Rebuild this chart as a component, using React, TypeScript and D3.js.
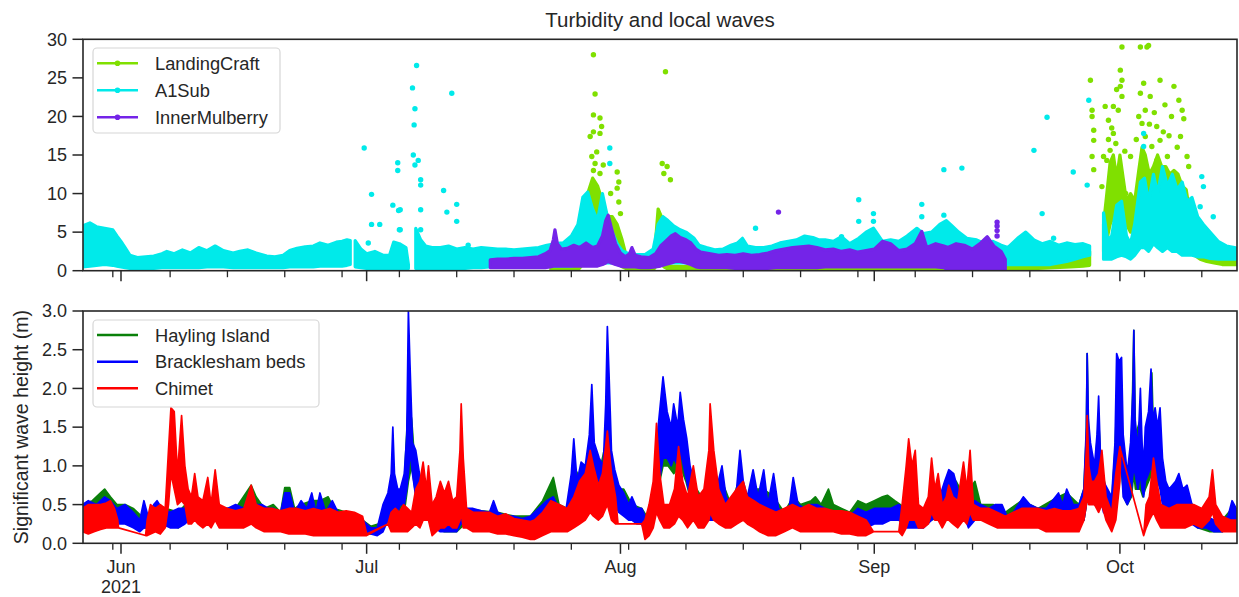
import React from "react";
import * as d3 from "d3";

// Time is stored as days since 2021-06-01 00:00 UTC.
const T0 = Date.UTC(2021, 5, 1);
const DAY = 864e5;
const toDate = (t: number) => new Date(T0 + t * DAY);

type Band = [number, number, number][]; // [day, low, high] envelope of a dense record
type Pts = [number, number][]; // [day, value] isolated samples

// ---------- Turbidity (top panel) ----------
const seriesTop = ["LandingCraft", "A1Sub", "InnerMulberry"];
const colorsTop = ["#80e000", "#00eaea", "#7424e8"];

const landingCraftBands: Band[] = [
  [
    [52.5, 0.1, 0.5], [55.5, 0.1, 0.6], [56.0, 0.3, 3.0], [56.5, 1.0, 8.0], [57.0, 2.0, 10.0],
    [57.6, 3.0, 12.0], [58.2, 3.0, 11.0], [58.8, 2.5, 9.0], [59.4, 2.0, 7.0], [60.0, 2.0, 7.0],
    [60.6, 1.5, 6.0], [61.2, 0.5, 4.0], [61.8, 0.2, 1.5], [62.5, 0.1, 0.4], [65.0, 0.1, 0.5],
    [65.3, 0.5, 4.0], [65.6, 1.0, 8.0], [66.0, 1.0, 7.0], [66.3, 0.5, 3.0], [66.8, 0.2, 0.6],
    [70, 0.1, 0.5], [80, 0.1, 0.5], [90, 0.1, 0.5], [100, 0.05, 0.4], [108, 0.1, 0.5],
    [110, 0.2, 0.8], [112, 0.3, 1.0], [114, 0.4, 1.5], [116, 0.5, 2.0], [117.5, 0.6, 2.5], [118.3, 0.7, 2.5],
  ],
  [
    [120.0, 2.5, 6.0], [120.4, 4.0, 10.0], [120.8, 6.0, 14.0], [121.2, 7.0, 15.0], [121.6, 7.0, 12.0],
    [122.0, 8.0, 15.0], [122.4, 8.0, 12.0], [122.8, 6.0, 9.0], [123.3, 5.0, 10.0], [123.8, 6.0, 9.0],
    [124.3, 9.0, 13.0], [124.7, 11.0, 16.0], [125.1, 10.0, 15.0], [125.6, 9.0, 12.5], [126.1, 10.0, 13.5],
    [126.6, 11.0, 15.0], [127.1, 11.0, 13.5], [127.6, 10.0, 13.5], [128.1, 10.0, 12.5], [128.6, 9.0, 13.0],
    [129.1, 9.0, 12.5], [129.6, 7.0, 11.0], [130.1, 5.0, 10.5], [130.6, 3.0, 7.0], [131.1, 2.0, 5.0],
    [131.8, 1.5, 4.2], [132.6, 1.2, 3.0], [133.5, 1.0, 2.4], [134.5, 0.8, 2.0], [135.5, 0.8, 1.8], [136.3, 0.8, 1.6],
  ],
];

const landingCraftDots: Pts = [
  [57.7, 28.0], [57.9, 22.9], [57.7, 20.2], [58.5, 19.8], [58.7, 18.7], [57.7, 18.0], [58.5, 17.8],
  [57.3, 17.4], [58.1, 15.4], [57.5, 14.8], [57.9, 13.9], [58.9, 13.7], [57.7, 13.0], [58.5, 12.6],
  [60.6, 12.8], [60.8, 11.5], [60.6, 10.7], [59.8, 10.0], [60.8, 8.9], [61.0, 7.4],
  [66.5, 25.8], [66.1, 13.9], [66.7, 13.5], [67.1, 11.8], [66.3, 12.6],
  [118.4, 24.7], [118.6, 20.8], [118.6, 20.0], [118.8, 18.2], [118.8, 16.9], [118.6, 14.8], [118.8, 13.1],
  [120.2, 21.3], [121.2, 21.3], [120.6, 19.5], [121.2, 17.8], [120.8, 15.6], [120.4, 14.3], [121.2, 13.5],
  [121.0, 9.6], [122.05, 26.0], [122.25, 24.7], [122.05, 23.9], [122.25, 22.6], [121.8, 20.8], [122.25, 29.0],
  [122.7, 10.0], [123.3, 14.8], [124.5, 29.0], [125.3, 29.0], [125.5, 29.2], [124.5, 23.0], [124.9, 24.3],
  [125.7, 22.6], [125.1, 20.8], [124.7, 19.1], [125.1, 17.4], [125.9, 16.1], [126.5, 18.7], [126.9, 24.7],
  [126.9, 16.9], [127.8, 14.8], [128.6, 23.9], [129.2, 22.1], [129.6, 20.8], [129.8, 19.7], [129.4, 17.4],
  [130.2, 14.8], [130.4, 13.5], [126.5, 14.3], [126.7, 12.6], [120.0, 14.8], [119.8, 10.9],
  [120.6, 17.0], [121.0, 18.5], [121.5, 16.5], [122.6, 15.5], [124.0, 17.0], [124.3, 20.0], [125.6, 19.0],
  [126.2, 20.5], [127.3, 18.0], [128.0, 17.5], [128.3, 20.0], [129.0, 16.0], [127.5, 21.5], [121.6, 23.5],
];

const a1subBands: Band[] = [
  [
    [-4.7, 0.5, 5.8], [-3.8, 0.6, 6.2], [-3.0, 0.7, 5.7], [-2.0, 0.8, 5.5], [-1.0, 0.7, 5.3], [-0.5, 0.6, 4.5],
    [0.0, 0.5, 3.8], [0.5, 0.4, 3.0], [1.1, 0.3, 2.0], [2, 0.3, 1.7], [3, 0.3, 1.8], [4, 0.3, 1.9],
    [5, 0.4, 2.2], [5.6, 0.4, 2.5], [6.5, 0.4, 2.2], [7.5, 0.4, 2.7], [8.5, 0.4, 2.3], [9.5, 0.4, 3.0],
    [10.5, 0.5, 2.6], [11.5, 0.5, 3.2], [12.5, 0.5, 2.6], [13.7, 0.4, 2.3], [14.5, 0.4, 2.5], [15.5, 0.4, 2.7],
    [16.5, 0.4, 2.3], [17.8, 0.4, 1.9], [18.8, 0.4, 1.8], [19.8, 0.4, 2.0], [20.6, 0.5, 2.6], [21.5, 0.5, 2.9],
    [22.5, 0.5, 3.1], [23.5, 0.5, 3.2], [24.3, 0.6, 3.6], [25.3, 0.6, 3.3], [26.3, 0.6, 3.7], [27.0, 0.6, 3.8],
    [27.6, 0.7, 4.0], [28.0, 0.8, 3.9],
  ],
  [
    [28.6, 0.5, 3.9], [29.3, 0.4, 2.8], [30, 0.3, 2.2], [31, 0.3, 2.5], [32, 0.3, 2.0], [32.8, 0.3, 2.0],
    [33.3, 0.3, 3.7], [34, 0.3, 3.5], [34.8, 0.3, 3.0], [35.1, 0.3, 0.8],
  ],
  [
    [36.0, 0.3, 5.5], [36.6, 0.3, 4.0], [37.2, 0.3, 3.2], [38, 0.3, 3.0], [39, 0.3, 3.0], [40, 0.3, 3.2],
    [41, 0.3, 2.8], [42, 0.3, 3.0], [43, 0.4, 2.8], [44, 0.4, 3.0], [45, 0.5, 2.9], [46, 0.5, 2.8],
    [47, 0.5, 2.8], [48, 0.5, 2.7], [49, 0.5, 2.8], [50, 0.5, 2.9], [51, 0.5, 3.0], [52, 0.6, 3.3],
    [53, 0.6, 3.5], [54, 0.6, 3.6], [55, 0.6, 4.5], [55.8, 0.8, 6.0], [56.4, 1.0, 9.5], [57.0, 1.0, 10.2],
    [57.6, 1.0, 8.0], [58.2, 1.0, 6.5], [58.8, 1.0, 10.0], [59.4, 1.0, 7.0], [60.0, 1.0, 5.0], [60.6, 0.8, 3.5],
    [61.2, 0.6, 2.6], [62, 0.6, 2.2], [63, 0.6, 2.1], [64, 0.6, 2.1], [65, 0.8, 2.8], [65.6, 1.0, 6.0],
    [66.2, 1.0, 7.0], [66.8, 1.0, 6.5], [67.5, 1.0, 5.8], [68.3, 1.0, 5.3], [69.0, 1.0, 5.0], [70, 1.0, 4.2],
    [70.6, 1.0, 3.3], [71.5, 0.8, 3.0], [72.5, 0.8, 2.7], [73.5, 0.7, 2.8], [74.5, 0.7, 3.3], [75.3, 0.7, 3.6],
    [75.9, 0.7, 4.2], [76.5, 0.7, 3.2], [77.5, 0.7, 3.0], [78.5, 0.7, 3.0], [79.5, 0.8, 3.2], [80.5, 0.9, 3.6],
    [81.5, 1.0, 3.8], [82.5, 1.0, 4.0], [83.5, 1.0, 4.5], [84.5, 1.0, 4.3], [85.2, 1.0, 4.0], [86, 1.0, 4.0],
    [87, 1.0, 3.8], [88, 1.0, 4.4], [89, 1.0, 3.5], [90.1, 1.0, 4.2], [91, 1.0, 5.0], [91.9, 1.0, 5.5],
    [93, 1.0, 3.8], [94, 1.0, 4.0], [95, 1.0, 3.8], [96, 1.0, 4.5], [97.2, 1.2, 5.5], [98, 1.2, 4.8],
    [99, 1.2, 5.0], [100, 1.2, 6.0], [100.8, 1.2, 6.5], [101.5, 1.2, 5.8], [102.3, 1.0, 5.0], [103.3, 1.0, 4.2],
    [104.5, 0.8, 4.0], [105.5, 0.8, 3.5], [106.5, 0.8, 3.8], [107.5, 0.8, 3.3], [108.3, 0.8, 3.0], [109.5, 0.8, 4.2],
    [110.5, 0.8, 5.0], [111.5, 0.8, 4.0], [112.5, 0.8, 3.5], [113.5, 0.8, 3.8], [114.5, 1.0, 3.3], [115.5, 1.2, 3.6],
    [116.5, 1.5, 3.4], [117.5, 1.8, 3.5], [118.3, 2.0, 3.2],
  ],
  [
    [120.0, 1.5, 7.5], [120.5, 1.5, 4.0], [121.0, 1.5, 4.5], [121.6, 1.8, 8.5], [122.2, 2.0, 9.0],
    [122.8, 1.8, 4.5], [123.3, 1.5, 3.5], [123.8, 2.0, 6.0], [124.5, 3.0, 11.5], [125.0, 3.0, 12.0],
    [125.5, 2.5, 9.0], [126.1, 3.5, 12.5], [126.6, 3.0, 10.0], [127.2, 2.5, 13.5], [127.8, 3.0, 11.0],
    [128.4, 2.5, 12.5], [129.0, 2.5, 10.5], [129.6, 2.0, 11.5], [130.2, 2.0, 9.0], [130.8, 2.0, 9.5],
    [131.5, 1.8, 7.0], [132.2, 1.8, 6.0], [133, 1.6, 5.0], [134, 1.5, 3.8], [135, 1.5, 3.2], [136, 1.5, 3.0],
    [136.5, 1.5, 2.8],
  ],
];

const a1subDots: Pts = [
  [29.7, 15.9], [30.6, 9.9], [30.6, 6.0], [31.6, 6.0], [30.2, 3.6], [33.2, 8.5], [33.9, 7.8], [34.0, 5.3],
  [33.8, 14.0], [33.8, 13.0], [34.1, 7.9], [34.1, 5.3], [36.1, 26.6], [35.6, 23.7], [35.9, 21.0],
  [35.8, 18.9], [35.7, 15.0], [36.3, 14.3], [35.9, 13.7], [36.6, 11.8], [36.6, 11.1], [36.6, 7.9],
  [36.6, 5.3], [40.4, 23.0], [39.4, 10.4], [39.8, 7.6], [41.0, 8.6], [41.0, 6.4], [42.4, 3.3],
  [59.7, 15.9], [59.7, 13.9], [77.5, 5.5], [88.0, 4.4], [90.1, 9.2], [90.1, 6.4], [91.9, 7.4], [91.9, 6.4],
  [97.8, 8.6], [97.8, 7.0], [100.5, 13.1], [102.7, 13.3], [100.5, 7.2], [111.5, 15.6], [113.1, 19.9],
  [112.5, 7.4], [113.9, 4.2], [116.3, 12.8], [118.0, 11.1], [118.2, 22.1], [132.0, 12.2], [132.2, 10.9],
  [133.4, 7.0], [131.8, 8.3], [124.9, 17.8], [124.9, 16.1],
];

const innerMulberryBands: Band[] = [
  [
    [45.1, 0.4, 1.4], [46, 0.4, 1.5], [47, 0.4, 1.5], [48, 0.4, 1.6], [49, 0.4, 1.6], [50, 0.4, 1.7],
    [51, 0.4, 1.8], [51.8, 0.4, 2.2], [52.4, 0.5, 2.6], [52.8, 0.6, 4.0], [53.0, 0.6, 5.3], [53.3, 0.6, 3.5],
    [53.8, 0.6, 2.8], [54.5, 0.6, 2.9], [55.3, 0.6, 3.3], [56, 0.6, 3.0], [56.8, 0.6, 3.6], [57.6, 0.6, 3.0],
    [58.2, 0.6, 3.2], [58.8, 0.8, 4.5], [59.2, 1.0, 6.5], [59.5, 1.2, 7.2], [59.9, 1.0, 5.5], [60.4, 0.8, 3.5],
    [61.0, 0.6, 2.3], [61.6, 0.5, 1.8], [62.1, 0.5, 2.2], [62.4, 0.5, 3.0], [62.8, 0.5, 2.0], [63.5, 0.4, 1.8],
    [64.5, 0.4, 1.7], [65.3, 0.5, 2.2], [65.9, 0.6, 3.2], [66.5, 0.8, 3.8], [67.2, 1.0, 4.5], [67.7, 1.2, 4.8],
    [68.3, 1.2, 4.3], [69.0, 1.0, 4.0], [69.6, 0.8, 3.6], [70.2, 0.5, 2.8], [70.8, 0.4, 2.4], [72, 0.4, 2.2],
    [73, 0.4, 2.0], [74, 0.4, 2.1], [75, 0.3, 2.0], [76, 0.3, 2.2], [77, 0.3, 2.0], [78, 0.3, 2.1],
    [79, 0.3, 2.3], [80, 0.4, 2.6], [81, 0.4, 2.8], [82, 0.4, 3.0], [83, 0.4, 3.1], [84, 0.4, 3.2],
    [85, 0.4, 3.0], [86, 0.5, 2.7], [87, 0.5, 2.8], [88, 0.5, 2.5], [89, 0.5, 2.7], [90, 0.5, 2.4],
    [91, 0.5, 2.6], [92, 0.5, 2.8], [93, 0.5, 3.8], [94, 0.5, 3.5], [95, 0.5, 2.6], [96, 0.5, 2.8],
    [97, 0.5, 3.5], [97.8, 0.5, 5.1], [98.4, 0.5, 3.0], [99.5, 0.5, 3.5], [100.5, 0.4, 3.2], [101, 0.1, 3.0],
    [102, 0.1, 3.5], [103, 0.1, 3.3], [104, 0.1, 2.8], [105, 0.1, 3.6], [105.8, 0.1, 4.4], [106.6, 0.1, 3.2],
    [107.5, 0.1, 2.5], [108.0, 0.1, 1.5],
  ],
];

const innerMulberryDots: Pts = [
  [80.3, 7.6], [107.0, 4.5], [107.0, 5.2], [107.0, 5.8], [107.0, 6.3],
];

// ---------- Significant wave height (bottom panel) ----------
const seriesBottom = ["Hayling Island", "Bracklesham beds", "Chimet"];
const colorsBottom = ["#0a800a", "#0000ff", "#ff0000"];

const haylingBand: Band = [
  [-4.7, 0.2, 0.5], [-3.5, 0.25, 0.55], [-2.5, 0.25, 0.65], [-2.0, 0.3, 0.7], [-1.3, 0.3, 0.6], [-0.5, 0.3, 0.5],
  [0.5, 0.3, 0.5], [1.5, 0.25, 0.45], [2.5, 0.2, 0.35], [3.3, 0.2, 0.35], [4.4, 0.3, 0.5], [5.5, 0.25, 0.45],
  [7, 0.2, 0.4], [8.3, 0.3, 0.55], [9.5, 0.3, 0.45], [11, 0.3, 0.45], [12.5, 0.3, 0.45], [14, 0.3, 0.45],
  [15.9, 0.4, 0.75], [16.5, 0.35, 0.6], [17.5, 0.3, 0.45], [18.6, 0.3, 0.5], [19.5, 0.25, 0.4], [20.0, 0.35, 0.72],
  [20.6, 0.4, 0.72], [21.2, 0.3, 0.45], [22, 0.3, 0.5], [23.3, 0.35, 0.55], [24.3, 0.3, 0.55], [25.3, 0.35, 0.6],
  [26, 0.3, 0.45], [27.5, 0.2, 0.4], [29.5, 0.15, 0.3], [30.5, 0.12, 0.22], [31.5, 0.15, 0.25], [32.3, 0.25, 0.5],
  [32.8, 0.3, 0.55], [33.3, 0.4, 0.7], [34.1, 0.4, 0.6], [34.6, 0.4, 0.8], [35.1, 0.8, 1.85], [35.5, 1.0, 1.6],
  [35.9, 0.7, 1.0], [36.5, 0.5, 0.7], [37.2, 0.35, 0.55], [38.2, 0.2, 0.45], [39.5, 0.15, 0.35], [41, 0.15, 0.3],
  [42, 0.25, 0.45], [44, 0.25, 0.42], [46, 0.25, 0.4], [48, 0.2, 0.35], [50, 0.15, 0.35], [51.5, 0.3, 0.55],
  [52.8, 0.4, 0.85], [53.5, 0.3, 0.5], [54.5, 0.3, 0.45], [55.3, 0.4, 1.0], [56.2, 0.4, 0.8], [57.5, 0.6, 1.2],
  [58.4, 0.5, 0.9], [59.4, 0.6, 1.4], [60.0, 0.5, 0.9], [60.6, 0.45, 0.7], [61.4, 0.4, 0.7], [62.4, 0.3, 0.5],
  [63.6, 0.25, 0.45], [64.2, 0.2, 0.35], [65, 0.3, 0.6], [65.6, 0.7, 1.3], [66.2, 1.0, 1.6], [66.8, 1.0, 1.4],
  [67.5, 0.9, 1.3], [68.3, 1.0, 1.5], [69, 0.8, 1.2], [69.5, 0.6, 0.9], [70.3, 0.4, 0.7], [71.5, 0.3, 0.5],
  [73.4, 0.4, 0.8], [74.5, 0.3, 0.5], [75.6, 0.4, 0.85], [76.5, 0.35, 0.6], [77.3, 0.4, 0.7], [78.5, 0.4, 0.7],
  [79.7, 0.3, 0.6], [81, 0.25, 0.4], [82.1, 0.3, 0.6], [83, 0.3, 0.5], [84.3, 0.35, 0.55], [84.8, 0.4, 0.6],
  [85.5, 0.3, 0.5], [86.4, 0.35, 0.7], [87, 0.3, 0.5], [88, 0.25, 0.45], [89, 0.25, 0.4], [90, 0.35, 0.55],
  [91, 0.3, 0.5], [92, 0.35, 0.55], [93, 0.35, 0.6], [93.6, 0.4, 0.62], [94.5, 0.35, 0.55], [95.2, 0.35, 0.5],
  [96, 0.25, 0.4], [97.5, 0.25, 0.4], [99, 0.3, 0.5], [100, 0.35, 0.6], [101, 0.45, 0.85], [102, 0.45, 0.8],
  [103, 0.4, 0.6], [104.3, 0.4, 0.8], [105, 0.3, 0.5], [106.5, 0.3, 0.5], [108, 0.25, 0.4], [110, 0.3, 0.55],
  [112, 0.25, 0.45], [114.5, 0.35, 0.6], [115.5, 0.35, 0.65], [117, 0.3, 0.5], [117.6, 0.3, 0.7], [117.9, 0.5, 1.4],
  [118.0, 0.8, 2.45], [118.15, 0.7, 1.5], [118.4, 0.6, 1.1], [118.9, 0.5, 0.9], [119.4, 0.7, 1.6], [119.7, 0.5, 1.0],
  [120.3, 0.4, 0.7], [121.0, 0.3, 0.55], [121.4, 0.5, 1.2], [121.65, 1.0, 1.95], [122.2, 0.9, 1.7], [122.5, 0.6, 1.0],
  [122.9, 0.5, 0.7], [123.4, 0.6, 1.2], [123.7, 0.9, 2.75], [123.9, 0.7, 1.4], [124.5, 0.7, 1.6], [124.8, 0.6, 1.0],
  [125.1, 0.7, 1.3], [125.5, 0.8, 1.4], [125.9, 0.9, 2.2], [126.1, 0.8, 1.4], [126.5, 0.9, 1.3], [126.9, 0.8, 1.3],
  [127.3, 0.5, 0.9], [127.8, 0.4, 0.7], [128.5, 0.35, 0.6], [129.5, 0.35, 0.7], [130.5, 0.3, 0.55], [131.5, 0.2, 0.4],
  [133, 0.15, 0.3], [134.5, 0.15, 0.3], [135.7, 0.25, 0.45], [136.5, 0.2, 0.3],
];

const brackleshamBand: Band = [
  [-4.7, 0.2, 0.5], [-4.0, 0.2, 0.55], [-3, 0.2, 0.5], [-2, 0.22, 0.6], [-1.3, 0.25, 0.55], [-0.5, 0.25, 0.45],
  [0.5, 0.25, 0.5], [1.5, 0.2, 0.4], [2.3, 0.15, 0.3], [2.8, 0.2, 0.55], [3.3, 0.2, 0.35], [4.0, 0.25, 0.5],
  [4.4, 0.3, 0.55], [5.0, 0.25, 0.45], [6, 0.2, 0.4], [7, 0.2, 0.45], [7.8, 0.25, 0.45], [8.3, 0.3, 0.6],
  [9, 0.3, 0.5], [10, 0.3, 0.45], [11, 0.3, 0.5], [12, 0.3, 0.45], [13, 0.3, 0.45], [14, 0.3, 0.5],
  [15, 0.3, 0.45], [15.9, 0.4, 0.7], [16.5, 0.3, 0.5], [17.2, 0.3, 0.5], [18, 0.25, 0.45], [18.6, 0.3, 0.45],
  [19.5, 0.25, 0.4], [20.0, 0.3, 0.65], [20.6, 0.35, 0.65], [21.2, 0.3, 0.4], [22.0, 0.3, 0.55], [22.7, 0.3, 0.45],
  [23.3, 0.35, 0.65], [23.8, 0.3, 0.4], [24.3, 0.3, 0.65], [25, 0.25, 0.4], [25.8, 0.3, 0.55], [26.5, 0.25, 0.4],
  [27.5, 0.2, 0.4], [28.5, 0.2, 0.35], [29.5, 0.15, 0.3], [30.5, 0.12, 0.2], [31.3, 0.1, 0.2], [32, 0.15, 0.5],
  [32.6, 0.3, 0.65], [33.0, 0.4, 0.9], [33.2, 0.5, 1.5], [33.4, 0.4, 0.9], [33.8, 0.4, 0.7], [34.1, 0.5, 0.7],
  [34.6, 0.5, 0.9], [34.9, 0.7, 1.4], [35.1, 0.9, 3.0], [35.3, 1.2, 2.3], [35.6, 0.9, 1.3], [36.0, 0.6, 1.2],
  [36.6, 0.5, 0.8], [37.2, 0.4, 0.6], [38, 0.2, 0.5], [38.3, 0.2, 0.55], [39, 0.15, 0.4], [40, 0.15, 0.35],
  [41, 0.15, 0.3], [41.5, 0.25, 0.45], [42, 0.25, 0.45], [43, 0.25, 0.45], [44, 0.25, 0.42], [45, 0.25, 0.4],
  [45.5, 0.3, 0.55], [46, 0.25, 0.4], [47, 0.2, 0.35], [48, 0.2, 0.35], [49, 0.15, 0.32], [50, 0.15, 0.35],
  [51, 0.2, 0.45], [52, 0.3, 0.55], [52.8, 0.35, 0.6], [53.5, 0.3, 0.45], [54.3, 0.3, 0.4], [55.0, 0.3, 0.9],
  [55.3, 0.5, 1.35], [55.7, 0.4, 0.8], [56.2, 0.5, 1.05], [56.7, 0.5, 1.0], [57.2, 0.6, 1.4], [57.5, 0.8, 2.05],
  [57.8, 0.7, 1.3], [58.4, 0.6, 1.1], [58.9, 0.4, 1.0], [59.2, 0.8, 1.8], [59.4, 1.0, 2.8], [59.6, 0.8, 2.2],
  [59.9, 0.6, 1.2], [60.3, 0.5, 0.95], [60.8, 0.4, 0.75], [61.4, 0.35, 0.65], [62, 0.3, 0.5], [62.4, 0.3, 0.6],
  [63, 0.25, 0.45], [63.6, 0.25, 0.45], [64.2, 0.1, 0.3], [65, 0.3, 0.6], [65.6, 0.7, 1.5], [66.2, 1.1, 2.15],
  [66.7, 1.1, 1.7], [67.2, 1.0, 1.5], [67.5, 1.1, 1.8], [68.0, 1.0, 1.5], [68.3, 1.2, 1.95], [68.7, 1.0, 1.6],
  [69.1, 0.8, 1.35], [69.5, 0.6, 1.0], [70, 0.4, 0.8], [70.5, 0.3, 0.6], [71, 0.3, 0.55], [71.8, 0.3, 0.5],
  [72.5, 0.3, 0.6], [73.4, 0.4, 1.0], [73.9, 0.3, 0.6], [74.5, 0.25, 0.5], [75.1, 0.3, 0.6], [75.6, 0.4, 1.2],
  [76.0, 0.4, 0.8], [76.5, 0.3, 0.6], [77.2, 0.4, 0.95], [77.8, 0.3, 0.6], [78.5, 0.4, 0.95], [79.0, 0.3, 0.5],
  [79.7, 0.4, 0.9], [80.3, 0.25, 0.45], [81, 0.2, 0.4], [81.6, 0.25, 0.45], [82.1, 0.35, 0.85], [82.7, 0.3, 0.5],
  [83.5, 0.25, 0.45], [84.3, 0.3, 0.5], [85, 0.25, 0.5], [86, 0.2, 0.45], [87, 0.2, 0.4], [88, 0.2, 0.4],
  [89, 0.15, 0.35], [90, 0.25, 0.45], [91, 0.2, 0.4], [92, 0.25, 0.45], [93, 0.25, 0.45], [94, 0.3, 0.45],
  [95, 0.3, 0.5], [96, 0.2, 0.4], [97, 0.2, 0.35], [98, 0.2, 0.35], [99, 0.3, 0.45], [100, 0.35, 0.6],
  [100.6, 0.4, 0.8], [101.1, 0.5, 0.95], [101.7, 0.5, 0.9], [102.2, 0.4, 0.7], [103, 0.35, 0.55], [103.5, 0.2, 0.4],
  [104.3, 0.3, 0.55], [105, 0.3, 0.5], [106, 0.3, 0.45], [106.8, 0.35, 0.5], [107.6, 0.3, 0.5], [108.2, 0.25, 0.35],
  [109, 0.25, 0.4], [110.2, 0.3, 0.6], [111, 0.3, 0.5], [112, 0.25, 0.45], [113, 0.25, 0.45], [114.5, 0.35, 0.65],
  [115, 0.3, 0.5], [115.5, 0.35, 0.7], [116.3, 0.3, 0.5], [117, 0.3, 0.5], [117.6, 0.3, 0.7], [117.9, 0.5, 1.5],
  [118.0, 0.8, 2.45], [118.15, 0.8, 1.6], [118.4, 0.7, 1.3], [118.9, 0.5, 1.0], [119.2, 0.6, 1.4], [119.4, 0.8, 1.9],
  [119.6, 0.6, 1.2], [120.0, 0.4, 0.8], [120.5, 0.35, 0.7], [121.0, 0.3, 0.6], [121.4, 0.5, 1.3], [121.6, 1.0, 2.45],
  [121.9, 1.2, 2.35], [122.2, 1.0, 2.4], [122.4, 0.6, 1.4], [122.9, 0.5, 0.9], [123.3, 0.6, 1.3], [123.6, 0.9, 2.0],
  [123.7, 1.0, 2.75], [123.85, 0.9, 1.6], [124.2, 0.7, 1.2], [124.5, 0.9, 2.0], [124.7, 0.7, 1.3], [124.9, 0.6, 1.0],
  [125.1, 0.8, 1.5], [125.5, 0.9, 1.7], [125.8, 1.0, 2.25], [126.0, 0.9, 1.6], [126.3, 0.9, 1.75], [126.6, 0.8, 1.5],
  [126.9, 0.7, 1.75], [127.2, 0.5, 1.1], [127.6, 0.4, 0.8], [128.0, 0.35, 0.7], [128.4, 0.35, 0.75], [128.8, 0.4, 0.8],
  [129.2, 0.4, 0.9], [129.7, 0.35, 0.7], [130.2, 0.35, 0.75], [130.8, 0.25, 0.5], [131.5, 0.2, 0.4], [132.5, 0.2, 0.35],
  [133.5, 0.15, 0.3], [134.5, 0.15, 0.3], [135.2, 0.2, 0.35], [135.7, 0.3, 0.55], [136.2, 0.25, 0.45], [136.5, 0.2, 0.35],
];

const chimetBand: Band = [
  [-4.7, 0.15, 0.45], [-4.0, 0.12, 0.5], [-3.3, 0.15, 0.5], [-2.5, 0.18, 0.5], [-1.8, 0.2, 0.52], [-1.3, 0.2, 0.55],
  [-0.8, 0.2, 0.45], [-0.4, 0.2, 0.3], [-0.3, 0.2, 0.2], [3.0, 0.1, 0.1], [3.2, 0.1, 0.3], [3.6, 0.12, 0.5],
  [4.2, 0.15, 0.45], [4.8, 0.12, 0.5], [5.4, 0.2, 0.45], [5.8, 0.5, 1.2], [6.1, 0.9, 1.75], [6.5, 0.7, 1.7],
  [6.9, 0.5, 0.9], [7.4, 0.55, 1.65], [7.8, 0.5, 1.0], [8.2, 0.25, 0.7], [8.6, 0.25, 0.6], [9.0, 0.3, 0.9],
  [9.4, 0.25, 0.6], [10.0, 0.2, 0.55], [10.6, 0.25, 0.85], [11.0, 0.2, 0.5], [11.5, 0.3, 0.95], [12.0, 0.2, 0.5],
  [13, 0.2, 0.45], [14, 0.2, 0.42], [15, 0.2, 0.45], [15.9, 0.25, 0.75], [16.5, 0.2, 0.5], [17.5, 0.15, 0.45],
  [18.5, 0.15, 0.45], [19.5, 0.15, 0.42], [20.5, 0.12, 0.45], [21.5, 0.12, 0.45], [22.5, 0.12, 0.42], [23.5, 0.1, 0.45],
  [24.5, 0.1, 0.42], [25.5, 0.1, 0.45], [26.5, 0.1, 0.4], [27.5, 0.1, 0.42], [28.5, 0.1, 0.4], [29.5, 0.1, 0.35],
  [30.0, 0.1, 0.12], [32.6, 0.25, 0.25], [33.0, 0.15, 0.4], [33.5, 0.15, 0.45], [34.0, 0.15, 0.4], [34.5, 0.15, 0.5],
  [35.0, 0.15, 0.45], [35.5, 0.2, 0.4], [36.0, 0.25, 0.7], [36.5, 0.2, 0.8], [36.9, 0.3, 1.05], [37.3, 0.3, 0.7],
  [37.55, 0.3, 1.0], [38.0, 0.1, 0.5], [38.5, 0.15, 0.6], [39.0, 0.2, 0.8], [39.5, 0.2, 0.65], [40.0, 0.25, 0.8],
  [40.5, 0.2, 0.55], [41.0, 0.2, 0.6], [41.4, 0.3, 1.2], [41.55, 0.4, 1.8], [41.8, 0.2, 1.1], [42.2, 0.2, 0.45],
  [43, 0.15, 0.4], [44, 0.15, 0.4], [45, 0.15, 0.4], [46, 0.12, 0.35], [47, 0.12, 0.38], [48, 0.1, 0.32],
  [49, 0.08, 0.3], [50, 0.05, 0.28], [50.5, 0.05, 0.3], [51.5, 0.1, 0.4], [52.5, 0.15, 0.55], [53.5, 0.15, 0.5],
  [54.5, 0.15, 0.45], [55.3, 0.2, 0.6], [56.0, 0.25, 0.8], [56.7, 0.3, 0.9], [57.3, 0.4, 1.2], [57.7, 0.35, 1.0],
  [58.3, 0.3, 0.75], [58.8, 0.35, 0.9], [59.4, 0.5, 1.45], [59.9, 0.3, 0.9], [60.4, 0.25, 0.6], [60.7, 0.25, 0.25],
  [63.6, 0.25, 0.25], [64.0, 0.05, 0.3], [64.5, 0.1, 0.5], [65.0, 0.2, 0.8], [65.4, 0.4, 1.55], [65.8, 0.3, 0.9],
  [66.3, 0.2, 0.5], [67, 0.2, 0.5], [67.6, 0.25, 0.7], [68.1, 0.35, 1.25], [68.6, 0.3, 0.8], [69.2, 0.2, 0.6],
  [69.9, 0.3, 1.0], [70.5, 0.2, 0.6], [71.2, 0.2, 0.7], [71.8, 0.3, 1.2], [71.95, 0.4, 1.8], [72.4, 0.3, 1.2],
  [73, 0.25, 0.7], [73.8, 0.2, 0.5], [74.5, 0.2, 0.6], [75.2, 0.25, 0.7], [76.0, 0.3, 0.8], [76.5, 0.25, 0.6],
  [77.3, 0.2, 0.55], [78, 0.15, 0.5], [79, 0.1, 0.45], [80, 0.1, 0.4], [81, 0.15, 0.45], [82, 0.2, 0.5],
  [83, 0.15, 0.45], [84, 0.15, 0.5], [85, 0.15, 0.45], [86, 0.15, 0.45], [87, 0.15, 0.42], [88, 0.12, 0.42],
  [89, 0.12, 0.4], [90, 0.1, 0.35], [91, 0.1, 0.3], [91.9, 0.15, 0.15], [95.0, 0.15, 0.15], [95.4, 0.1, 0.5],
  [95.9, 0.2, 1.0], [96.2, 0.3, 1.35], [96.6, 0.3, 1.0], [97.0, 0.3, 1.2], [97.4, 0.2, 0.5], [98, 0.2, 0.45],
  [98.6, 0.25, 0.6], [99.0, 0.4, 1.1], [99.4, 0.3, 0.7], [99.8, 0.3, 0.9], [100.3, 0.2, 0.5], [100.8, 0.3, 0.6],
  [101.1, 0.3, 0.75], [101.6, 0.25, 0.6], [102.2, 0.2, 0.55], [102.9, 0.3, 1.05], [103.3, 0.25, 0.7], [103.7, 0.4, 1.2],
  [104.1, 0.3, 0.5], [105, 0.3, 0.45], [106, 0.25, 0.45], [107, 0.2, 0.4], [108, 0.2, 0.35], [109, 0.2, 0.4],
  [110, 0.2, 0.45], [111, 0.2, 0.45], [112, 0.2, 0.45], [113, 0.15, 0.42], [114, 0.15, 0.45], [115, 0.15, 0.42],
  [116, 0.15, 0.42], [117, 0.15, 0.45], [117.6, 0.3, 0.6], [117.9, 0.5, 1.2], [118.0, 0.6, 1.65], [118.2, 0.5, 1.0],
  [118.5, 0.5, 0.8], [118.9, 0.5, 0.8], [119.4, 0.4, 0.9], [119.8, 0.5, 1.2], [120.3, 0.3, 0.6], [121.0, 0.15, 0.4],
  [121.5, 0.3, 0.9], [122.0, 0.8, 1.25], [122.1, 1.2, 1.2], [124.9, 0.1, 0.1], [125.2, 0.2, 0.5], [125.6, 0.3, 0.6],
  [126.1, 0.4, 1.1], [126.5, 0.3, 0.8], [127, 0.2, 0.5], [128, 0.2, 0.45], [129, 0.2, 0.5], [130, 0.2, 0.5],
  [131, 0.25, 0.5], [132, 0.2, 0.45], [132.9, 0.3, 0.6], [133.3, 0.4, 0.95], [133.7, 0.25, 0.5], [134.5, 0.15, 0.35],
  [135.5, 0.15, 0.3], [136.5, 0.15, 0.3],
];

const topTicks = [0, 5, 10, 15, 20, 25, 30];
const bottomTicks = [0, 0.5, 1.0, 1.5, 2.0, 2.5, 3.0];

const FONT = "'Liberation Sans', Arial, Helvetica, sans-serif";
const INK = "#262626";

export default function App() {
  const left = 83;
  const right = 1237;
  const top1 = 39.3, bot1 = 270.7;
  const top2 = 311, bot2 = 543.3;

  const x = d3.scaleUtc().domain([toDate(-4.641), toDate(136.3)]).range([left, right]);
  const yTop = d3.scaleLinear().domain([0, 30]).range([bot1, top1]);
  const yBot = d3.scaleLinear().domain([0, 3]).range([bot2, top2]);

  const [d0, d1] = x.domain();
  const months = d3.utcMonth.range(d0, d1);
  const weeks = d3.utcMonday.range(d0, d1);

  const bandTop = d3
    .area<[number, number, number]>()
    .x((d) => x(toDate(d[0])))
    .y0((d) => yTop(d[1]))
    .y1((d) => yTop(d[2]));
  const bandBot = d3
    .area<[number, number, number]>()
    .x((d) => x(toDate(d[0])))
    .y0((d) => yBot(d[1]))
    .y1((d) => yBot(d[2]));

  const topLayers = [
    { bands: landingCraftBands, dots: landingCraftDots, color: colorsTop[0] },
    { bands: a1subBands, dots: a1subDots, color: colorsTop[1] },
    { bands: innerMulberryBands, dots: innerMulberryDots, color: colorsTop[2] },
  ];
  const bottomLayers = [haylingBand, brackleshamBand, chimetBand];

  const xTicks = (yb: number) => (
    <g>
      {weeks.map((w, i) => (
        <line key={"w" + i} x1={x(w)} x2={x(w)} y1={yb} y2={yb + 6.5} stroke={INK} strokeWidth={1.3} />
      ))}
      {months.map((m, i) => (
        <line key={"m" + i} x1={x(m)} x2={x(m)} y1={yb} y2={yb + 10.5} stroke={INK} strokeWidth={1.5} />
      ))}
    </g>
  );

  const yAxis = (ticks: number[], y: d3.ScaleLinear<number, number>, fmt: (v: number) => string) => (
    <g>
      {ticks.map((t) => (
        <g key={t}>
          <line x1={left - 10.5} x2={left} y1={y(t)} y2={y(t)} stroke={INK} strokeWidth={1.5} />
          <text x={left - 16} y={y(t)} dy="0.35em" textAnchor="end" fontSize={18} fill={INK}>
            {fmt(t)}
          </text>
        </g>
      ))}
    </g>
  );

  const legend = (
    bx: number, by: number, bw: number, bh: number,
    names: string[], colors: string[], rowY: number[], marker: boolean
  ) => (
    <g>
      <rect x={bx} y={by} width={bw} height={bh} rx={4} fill="#fff" fillOpacity={0.8} stroke="#d6d6d6" strokeWidth={1.2} />
      {names.map((n, i) => (
        <g key={n}>
          <line x1={97} x2={138} y1={rowY[i]} y2={rowY[i]} stroke={colors[i]} strokeWidth={2.6} />
          {marker && <circle cx={117.5} cy={rowY[i]} r={2.8} fill={colors[i]} />}
          <text x={155} y={rowY[i] + 6.5} fontSize={18.3} fill={INK}>
            {n}
          </text>
        </g>
      ))}
    </g>
  );

  return (
    <svg
      width={1239}
      height={597}
      style={{ position: "absolute", left: 0, top: 0, background: "#fff" }}
      fontFamily={FONT}
    >
      <defs>
        <clipPath id="clip-top">
          <rect x={left} y={top1} width={right - left} height={bot1 - top1} />
        </clipPath>
        <clipPath id="clip-bot">
          <rect x={left} y={top2} width={right - left} height={bot2 - top2} />
        </clipPath>
      </defs>
      <rect x={0} y={0} width={1239} height={597} fill="#fff" />

      {/* Turbidity panel */}
      <g clipPath="url(#clip-top)">
        {topLayers.map((layer, li) => (
          <g key={li}>
            {layer.bands.map((b, bi) => (
              <path
                key={bi}
                d={bandTop(b) || ""}
                fill={layer.color}
                stroke={layer.color}
                strokeWidth={3.2}
                strokeLinejoin="round"
              />
            ))}
            {layer.dots.map((p, pi) => (
              <circle key={pi} cx={x(toDate(p[0]))} cy={yTop(p[1])} r={2.7} fill={layer.color} />
            ))}
          </g>
        ))}
      </g>
      <rect x={left} y={top1} width={right - left} height={bot1 - top1} fill="none" stroke={INK} strokeWidth={1.6} />
      {xTicks(bot1)}
      {yAxis(topTicks, yTop, (v) => String(v))}
      {legend(93, 48, 187, 85, seriesTop, colorsTop, [63.3, 90.3, 117.3], true)}
      <text x={(left + right) / 2} y={27} textAnchor="middle" fontSize={20.5} fill={INK}>
        Turbidity and local waves
      </text>

      {/* Wave height panel */}
      <g clipPath="url(#clip-bot)">
        {bottomLayers.map((b, i) => (
          <path
            key={i}
            d={bandBot(b) || ""}
            fill={colorsBottom[i]}
            stroke={colorsBottom[i]}
            strokeWidth={1.7}
            strokeLinejoin="round"
          />
        ))}
      </g>
      <rect x={left} y={top2} width={right - left} height={bot2 - top2} fill="none" stroke={INK} strokeWidth={1.6} />
      {xTicks(bot2)}
      {yAxis(bottomTicks, yBot, d3.format(".1f"))}
      {legend(93, 320, 226, 87, seriesBottom, colorsBottom, [335, 361.7, 388.3], false)}
      {months.map((m, i) => (
        <text key={i} x={x(m)} y={573} textAnchor="middle" fontSize={18} fill={INK}>
          {d3.utcFormat("%b")(m)}
        </text>
      ))}
      <text x={x(months[0])} y={593} textAnchor="middle" fontSize={18} fill={INK}>
        {d3.utcFormat("%Y")(months[0])}
      </text>
      <text
        transform={`translate(28,${(top2 + bot2) / 2}) rotate(-90)`}
        textAnchor="middle"
        fontSize={19.5}
        fill={INK}
      >
        Significant wave height (m)
      </text>
    </svg>
  );
}
